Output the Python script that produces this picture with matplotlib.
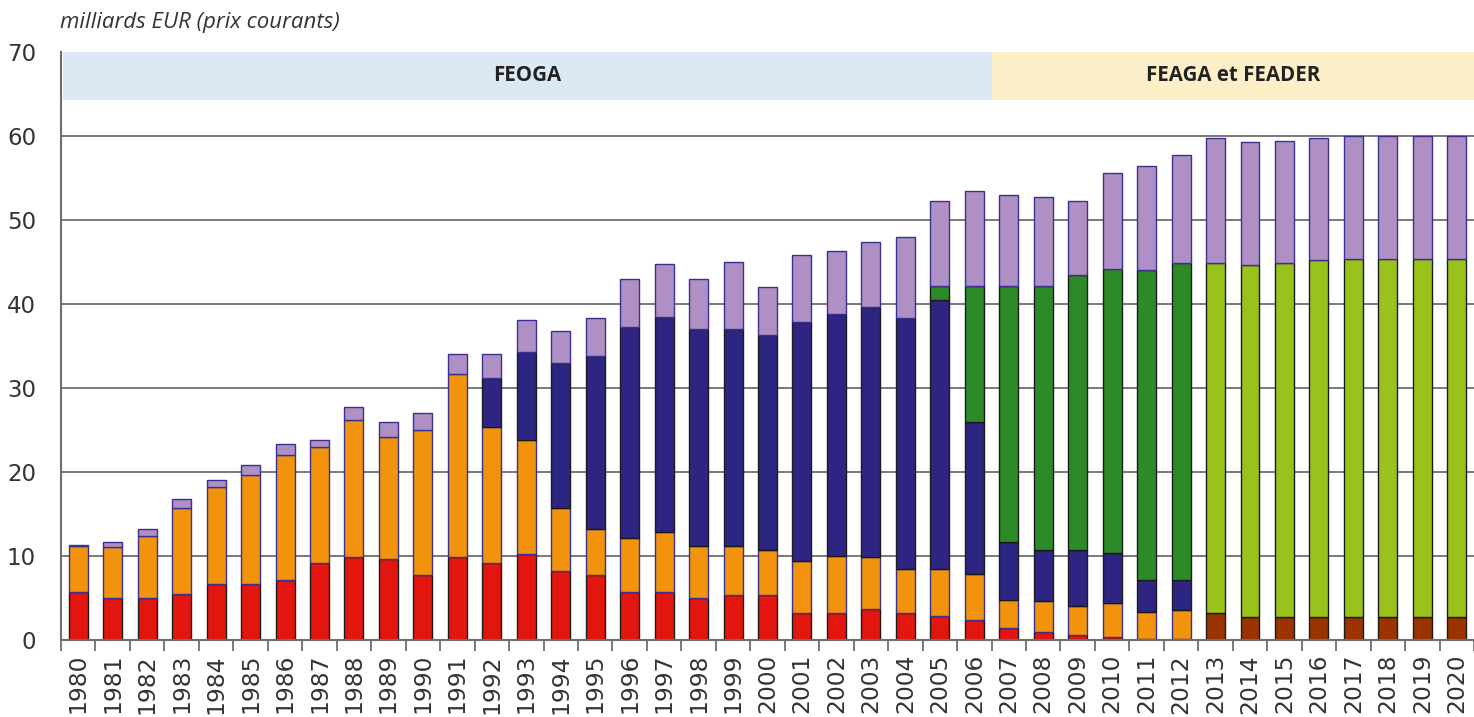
import matplotlib
matplotlib.use("Agg")
import matplotlib.pyplot as plt
import numpy as np

years = list(range(1980, 2021))

# milliards EUR
red = [5.7, 5.0, 5.0, 5.5, 6.7, 6.7, 7.2, 9.2, 9.9, 9.7, 7.7, 9.9, 9.2, 10.2, 8.2, 7.7,
       5.7, 5.7, 5.0, 5.4, 5.4, 3.2, 3.2, 3.7, 3.2, 2.9, 2.4, 1.4, 0.9, 0.6, 0.4, 0.1, 0.1,
       0, 0, 0, 0, 0, 0, 0, 0]
orange = [5.5, 6.1, 7.4, 10.2, 11.5, 13.0, 14.8, 13.8, 16.3, 14.5, 17.3, 21.8, 16.2, 13.6, 7.5, 5.5,
          6.5, 7.2, 6.2, 5.8, 5.3, 6.2, 6.8, 6.2, 5.2, 5.5, 5.5, 3.4, 3.7, 3.5, 4.0, 3.2, 3.5,
          0, 0, 0, 0, 0, 0, 0, 0]
navy = [0, 0, 0, 0, 0, 0, 0, 0, 0, 0, 0, 0, 5.8, 10.5, 17.3, 20.6,
        25.1, 25.6, 25.8, 25.8, 25.6, 28.4, 28.8, 29.8, 29.9, 32.1, 18.0, 6.9, 6.1, 6.6, 5.9, 3.9, 3.6,
        0, 0, 0, 0, 0, 0, 0, 0]
green = [0] * 25 + [1.7, 16.2, 30.4, 31.4, 32.7, 33.9, 36.9, 37.7] + [0] * 8
brown = [0] * 33 + [3.2, 2.7, 2.7, 2.7, 2.7, 2.7, 2.7, 2.7]
light_green = [0] * 33 + [41.7, 42.0, 42.2, 42.5, 42.7, 42.7, 42.7, 42.7]
lavender = [0.1, 0.6, 0.8, 1.1, 0.8, 1.1, 1.3, 0.8, 1.5, 1.7, 2.0, 2.3, 2.9, 3.8, 3.8, 4.5,
            5.7, 6.3, 6.0, 8.0, 5.7, 8.0, 7.5, 7.7, 9.7, 10.1, 11.3, 10.9, 10.6, 8.9, 11.4, 12.3, 12.8,
            14.9, 14.6, 14.5, 14.6, 14.6, 14.6, 14.6, 14.6]

series = [
    (red, "#e2150f", "#1a1a1a"),
    (brown, "#9a3300", "#1a1a1a"),
    (orange, "#f2930d", "#3b2f8f"),
    (navy, "#2e2482", "#1a1a1a"),
    (green, "#2d8a28", "#1a1a1a"),
    (light_green, "#99c31a", "#1a1a1a"),
    (lavender, "#ae90c4", "#3b2f8f"),
]

periods = [("FEOGA", 1979.57, 2006.5, "#dce9f5"), ("FEAGA et FEADER", 2006.5, 2020.5, "#fdf0c9")]

fig = plt.figure(figsize=(14.74, 7.17), dpi=100)
ax = fig.add_axes([0.0414, 0.1074, 0.9586, 0.8201])

x = np.array(years)
bottom = np.zeros(len(years))
for values, color, edge in series:
    vals = np.array(values, dtype=float)
    mask = vals > 0
    ax.bar(x[mask], vals[mask], bottom=bottom[mask], width=0.55, color=color,
           edgecolor=edge, linewidth=1.0, zorder=3)
    bottom += vals

# header band with the fund names
for label, start, end, color in periods:
    band_end = end if end < 2020 else 2021.5
    ax.fill_between([start, band_end], 64.3, 70, color=color, lw=0, zorder=2)
    ax.text((start + end) / 2, 67.2, label, ha="center", va="center", fontsize=14.8,
            fontweight="bold", family="Open Sans", color="#222222", zorder=4)

ax.set_xlim(1979.57, 2020.23)
ax.set_ylim(0, 70)
ax.set_yticks(range(0, 80, 10))
for v in range(10, 70, 10):
    ax.axhline(v, xmin=0, xmax=1, color="#6e6e6e", lw=1.3, zorder=2)

ax.set_xticks(years)
ax.set_xticklabels([str(y) for y in years], rotation=90, fontsize=16.8, color="#333333")
ax.set_xticks(np.arange(1979.5, 2021, 1), minor=True)
ax.tick_params(axis="x", which="major", length=0, pad=10)
ax.tick_params(axis="x", which="minor", length=8, width=1.3, color="#6e6e6e")
ax.tick_params(axis="y", length=0, labelsize=16.5, labelcolor="#333333", pad=18)

for side in ["top", "right"]:
    ax.spines[side].set_visible(False)
for side in ["left", "bottom"]:
    ax.spines[side].set_color("#6e6e6e")
    ax.spines[side].set_linewidth(1.5)
    ax.spines[side].set_zorder(5)

fig.text(0.041, 0.968, "milliards EUR (prix courants)", ha="left", va="center",
         fontsize=16, style="italic", family="Open Sans", color="#333333")

fig.savefig("out.png", dpi=100)
